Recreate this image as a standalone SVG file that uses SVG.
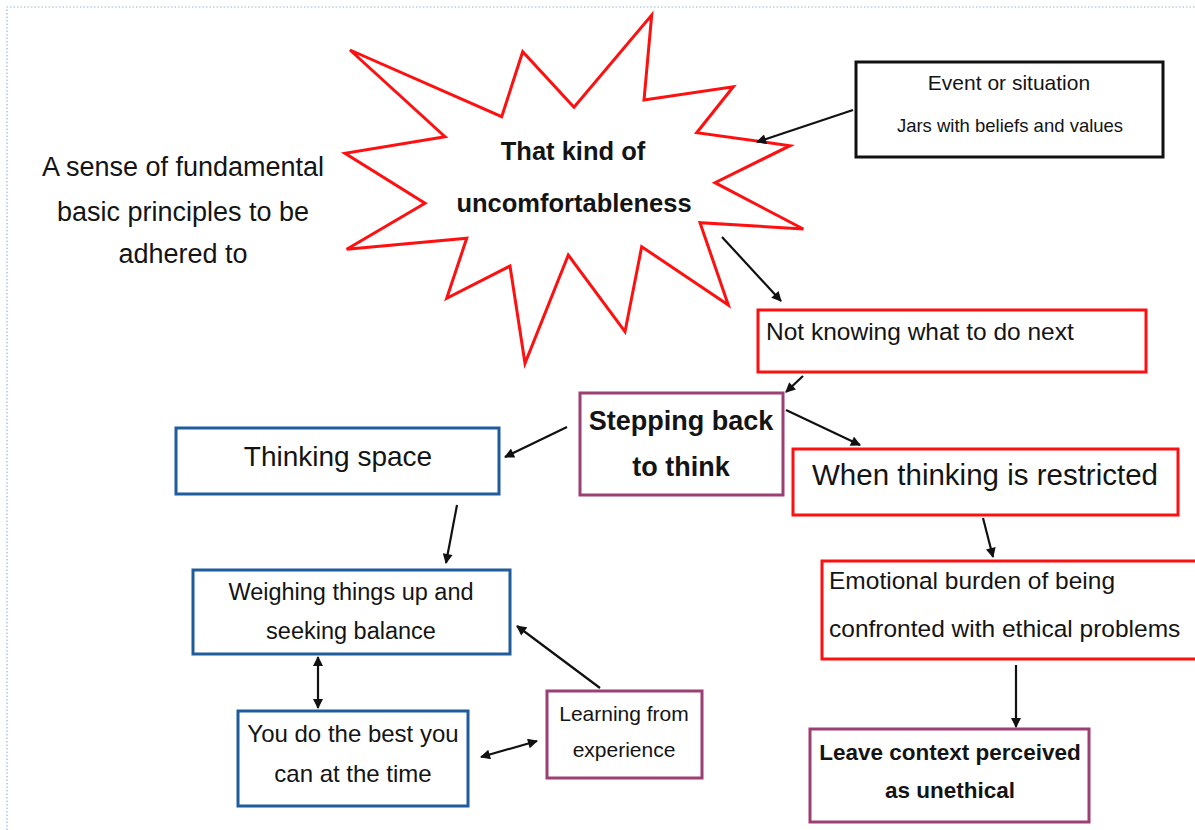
<svg xmlns="http://www.w3.org/2000/svg" width="1195" height="830" viewBox="0 0 1195 830">
  <defs>
    <marker id="head" viewBox="0 0 10 10" refX="9" refY="5" markerWidth="11" markerHeight="10" markerUnits="userSpaceOnUse" orient="auto-start-reverse">
      <path d="M0,0 L10,5 L0,10 Z" fill="#111"/>
    </marker>
    <style>
      text { font-family: "Liberation Sans", Arial, sans-serif; fill: #141414; }
      .c { text-anchor: middle; }
      .b { font-weight: bold; }
      .box { fill: #fff; stroke-width: 3; }
      .red { stroke: #ff1010; }
      .blue { stroke: #1f5c9e; }
      .purple { stroke: #9c3f72; }
      .black { stroke: #111; }
      .link { fill: none; stroke: #111; stroke-width: 2.2; marker-end: url(#head); }
      .both { marker-start: url(#head); }
      .frame { stroke: #8fb8e8; stroke-width: 1.2; stroke-dasharray: 1.5 2; fill: none; }
    </style>
  </defs>

  <rect width="1195" height="830" fill="#fff"/>
  <!-- page frame -->
  <path class="frame" d="M7,830 L7,7 L1195,7"/>

  <!-- free-standing note -->
  <g id="principles">
    <text class="c" x="183" y="176" font-size="27">A sense of fundamental</text>
    <text class="c" x="183" y="221" font-size="27">basic principles to be</text>
    <text class="c" x="183" y="263" font-size="27">adhered to</text>
  </g>

  <!-- central explosion shape -->
  <g id="uncomfortableness">
    <polygon points="350,50 501.7,116.7 522.7,51.7 574,107.3 651.7,15 644,100 733.3,86.7 696.7,132.7 790,145.7 715,182.7 803.3,229 700,222.7 728.3,305 641.7,246.7 625,331.7 568.3,255 525,363.3 510,266 446.7,298.3 466.7,238.3 346.7,249.3 425,203.3 345,153.3 445,136.7" fill="#fff" stroke="#ff1010" stroke-width="3" stroke-linejoin="miter"/>
    <text class="c b" x="573" y="160" font-size="25.5">That kind of</text>
    <text class="c b" x="574" y="212" font-size="25.5">uncomfortableness</text>
  </g>

  <g id="event">
    <rect class="box black" x="856" y="62" width="307" height="95"/>
    <text class="c" x="1009" y="90" font-size="21">Event or situation</text>
    <text class="c" x="1010" y="132" font-size="18.5">Jars with beliefs and values</text>
  </g>

  <g id="not-knowing">
    <rect class="box red" x="758" y="310" width="388" height="62"/>
    <text x="766" y="340" font-size="24.5">Not knowing what to do next</text>
  </g>

  <g id="stepping-back">
    <rect class="box purple" x="580" y="393" width="203" height="102"/>
    <text class="c b" x="681" y="430" font-size="27">Stepping back</text>
    <text class="c b" x="681" y="476" font-size="27">to think</text>
  </g>

  <g id="thinking-space">
    <rect class="box blue" x="176" y="428" width="323" height="66"/>
    <text class="c" x="338" y="466" font-size="28">Thinking space</text>
  </g>

  <g id="thinking-restricted">
    <rect class="box red" x="793" y="449" width="385" height="66"/>
    <text class="c" x="985" y="485" font-size="29.5">When thinking is restricted</text>
  </g>

  <g id="emotional-burden">
    <rect class="box red" x="822" y="561" width="376" height="98"/>
    <text x="829" y="589" font-size="24.5">Emotional burden of being</text>
    <text x="829" y="637" font-size="24.5">confronted with ethical problems</text>
  </g>

  <g id="leave-context">
    <rect class="box purple" x="810" y="729" width="279" height="93"/>
    <text class="c b" x="950" y="760" font-size="22.5">Leave context perceived</text>
    <text class="c b" x="950" y="798" font-size="22.5">as unethical</text>
  </g>

  <g id="weighing">
    <rect class="box blue" x="193" y="570" width="317" height="84"/>
    <text class="c" x="351" y="600" font-size="23.5">Weighing things up and</text>
    <text class="c" x="351" y="639" font-size="23.5">seeking balance</text>
  </g>

  <g id="best-you-can">
    <rect class="box blue" x="238" y="711" width="230" height="95"/>
    <text class="c" x="353" y="742" font-size="24">You do the best you</text>
    <text class="c" x="353" y="782" font-size="24">can at the time</text>
  </g>

  <g id="learning">
    <rect class="box purple" x="547" y="691" width="155" height="87"/>
    <text class="c" x="624" y="721" font-size="21">Learning from</text>
    <text class="c" x="624" y="757" font-size="21">experience</text>
  </g>

  <!-- connectors -->
  <g id="connectors">
    <path class="link" d="M853,110 L757,142"/>
    <path class="link" d="M722,237 L781,301"/>
    <path class="link" d="M803,376 L786,392"/>
    <path class="link" d="M567,427 L505,457"/>
    <path class="link" d="M786,410 L860,445"/>
    <path class="link" d="M983,518 L993,557"/>
    <path class="link" d="M1016,665 L1016,727"/>
    <path class="link" d="M457,505 L446,563"/>
    <path class="link both" d="M318,657 L318,708"/>
    <path class="link" d="M600,688 L517,626"/>
    <path class="link both" d="M481,757 L537,741"/>
  </g>
</svg>
